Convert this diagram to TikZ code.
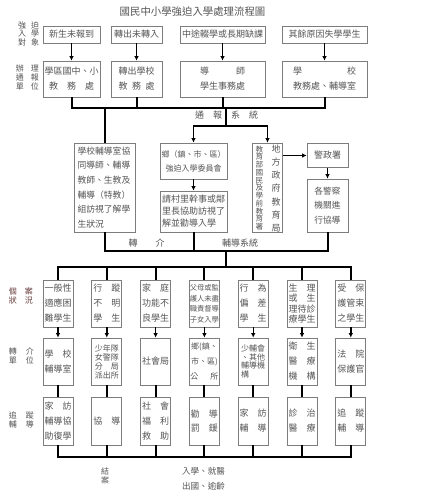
\documentclass[tikz,border=0pt]{standalone}
\usepackage{fontspec}
\setmainfont{Noto Sans CJK TC}
\usetikzlibrary{arrows.meta}
\definecolor{boxgray}{RGB}{125,125,125}
\definecolor{txtgray}{RGB}{85,85,85}
\definecolor{labred}{RGB}{100,55,55}
\tikzset{
  box/.style={draw=boxgray,line width=0.7pt,text=txtgray,inner sep=0pt,align=center,font=\fontsize{9}{15}\selectfont},
  obox/.style={box,minimum height=17pt},
  rbox/.style={box,minimum height=36pt},
  cbox/.style={box,minimum width=30pt,minimum height=47pt},
  arr/.style={line width=1.4pt,-{Latex[length=4.5pt,width=4.5pt]}},
  bus/.style={line width=2pt},
  slab/.style={text=txtgray,align=center,inner sep=0pt,font=\fontsize{8}{8.5}\selectfont},
  blab/.style={text=txtgray,inner sep=0pt,align=center,font=\fontsize{9}{11}\selectfont}
}
\begin{document}
\begin{tikzpicture}[x=1pt,y=-1pt]
\useasboundingbox (0,0) rectangle (433,500);
\node[blab,font=\fontsize{10.4}{12}\selectfont] (title) at (192.5,12) {國民中小學強迫入學處理流程圖};
\node[slab] (l1) at (28.5,33.5) {強\hspace{5pt}迫\\入\hspace{5pt}學\\對\hspace{5pt}象};
\node[slab,font=\fontsize{8}{9}\selectfont] (l2) at (27.5,77) {辦\hspace{7pt}理\\通\hspace{7pt}報\\單\hspace{7pt}位};
\node[slab,text=labred,font=\fontsize{8}{9}\selectfont] (l3) at (21,295.5) {個\hspace{8pt}案\\狀\hspace{8pt}況};
\node[slab,font=\fontsize{8}{9}\selectfont] (l4) at (21.5,355.5) {轉\hspace{9pt}介\\單\hspace{9pt}位};
\node[slab,font=\fontsize{8}{8.5}\selectfont] (l5) at (21.5,420) {追\hspace{9pt}蹤\\輔\hspace{9pt}導};

\node[obox,minimum width=57pt] (b1) at (71.5,34.5) {新生未報到}; \node[obox,minimum width=51pt] (b2) at (136.5,34.5) {轉出未轉入};
\node[obox,minimum width=85pt] (b3) at (222.5,34.5) {中途輟學或長期缺課}; \node[obox,minimum width=85pt] (b4) at (324.5,34.5) {其餘原因失學學生};
\node[rbox,minimum width=57pt] (c1) at (71.5,79) {學區國中、小\\教　務　處}; \node[rbox,minimum width=51pt] (c2) at (136.5,79) {轉出學校\\教\hspace{0.5em}務\hspace{0.5em}處};
\node[rbox,minimum width=85pt] (c3) at (222.5,79) {導　　　師\\學生事務處}; \node[rbox,minimum width=85pt] (c4) at (324.5,79) {學　　　　　校\\教務處、輔導室};
\draw[arr] (b1) -- (c1); \draw[arr] (b2) -- (c2); \draw[arr] (b3) -- (c3); \draw[arr] (b4) -- (c4);

\node[box,align=left,text width=54pt,inner xsep=3.5pt,minimum height=89pt,font=\fontsize{8.8}{14.6}\selectfont] (d1) at (104.5,187.5) {學校輔導室協\\同導師、輔導\\教師、生教及\\輔導（特教）\\組訪視了解學\\生狀況};
\node[box,minimum width=67pt,minimum height=36pt,font=\fontsize{8}{14}\selectfont] (d2) at (193.5,161) {鄉（鎮、市、區）\\強迫入學委員會};
\node[box,align=left,text width=63pt,inner xsep=2pt,minimum height=41pt,font=\fontsize{9}{12}\selectfont] (d3) at (193.5,211.5) {請村里幹事或鄰\\里長協助訪視了\\解並勸導入學};
\node[box,minimum width=30pt,minimum height=89pt] (d4) at (267.5,187.5) {};
\node[slab,font=\fontsize{7.6}{7.75}\selectfont] (d4a) at (259.5,188) {教\\育\\部\\國\\民\\及\\學\\前\\教\\育\\署};
\node[blab,font=\fontsize{9}{13.2}\selectfont] (d4b) at (276,188.5) {地\\方\\政\\府\\教\\育\\局};
\node[box,minimum width=41pt,minimum height=24pt] (e1) at (327.5,155.5) {警政署};
\node[box,minimum width=41pt,minimum height=53pt,font=\fontsize{8.7}{14.5}\selectfont] (e2) at (327.5,205.5) {各警察\\機關進\\行協導};

\coordinate (tb) at (226,108); \coordinate (tc) at (226,126);
\draw[bus] (c1.south) |- (c4.south |- tb) -- (c4.south); \draw[bus] (c2.south) -- (c2.south |- tb); \draw[bus] (c3.south) -- (c3.south |- tb);
\draw[bus] (tb) -- (tc); \draw[bus] (d1.north |- tb) -- (d1.north);
\draw[arr] (tc) -| (d2.north); \draw[arr] (tc) -| (d4.north);
\node[blab] (lb1) at (226.5,115.5) {通\hspace{9pt}報\hspace{9pt}系\hspace{9pt}統};
\draw[arr] (d2) -- (d3); \draw[arr] (d4.east |- e1.west) -- (e1.west); \draw[arr] (e1) -- (e2);

\coordinate (ta) at (226,251); \coordinate (td) at (226,267);
\draw[bus] (d1.south) |- (e2.south |- ta) -- (e2.south); \draw[bus] (d3.south) -- (d3.south |- ta); \draw[bus] (ta) -- (td);
\node[blab] (lb2) at (146.5,243) {轉\hspace{18pt}介}; \node[blab] (lb3) at (240,243) {輔導系統};

\node[cbox] (f1) at (58,303.5) {一般性\\適應困\\難學生}; \node[cbox] (f2) at (106.8,303.5) {行　蹤\\不　明\\學　生};
\node[cbox] (f3) at (155.6,303.5) {家　庭\\功能不\\良學生}; \node[cbox,font=\fontsize{7.3}{10.5}\selectfont] (f4) at (204.4,303.5) {父母或監\\護人未盡\\職責督導\\子女入學};
\node[cbox] (f5) at (253.2,303.5) {行　為\\偏　差\\學　生}; \node[cbox,font=\fontsize{9}{10.5}\selectfont] (f6) at (302,303.5) {生　理\\或　生\\理待診\\療學生};
\node[cbox] (f7) at (350.8,303.5) {受　保\\護管束\\之學生};
\draw[bus] (f1.north) |- (f7.north |- td) -- (f7.north); \draw[bus] (f2.north) -- (f2.north |- td); \draw[bus] (f3.north) -- (f3.north |- td);
\draw[bus] (f4.north) -- (f4.north |- td); \draw[bus] (f5.north) -- (f5.north |- td); \draw[bus] (f6.north) -- (f6.north |- td);

\node[cbox] (g1) at (58,361.5) {學　校\\輔導室}; \node[cbox,font=\fontsize{8}{9}\selectfont] (g2) at (106.8,361.5) {少年隊\\女警隊\\分　局\\派出所};
\node[cbox] (g3) at (155.6,361.5) {社會局}; \node[cbox,font=\fontsize{8}{15}\selectfont] (g4) at (204.4,361.5) {鄉(鎮、\\市、區)\\公\hspace{1.5em}所};
\node[cbox,align=left,text width=24pt,font=\fontsize{8}{8.7}\selectfont] (g5) at (253.2,361.5) {少輔會\\、其他\\輔導機\\構}; \node[cbox] (g6) at (302,361.5) {衛　生\\醫　療\\機　構};
\node[cbox] (g7) at (350.8,361.5) {法　院\\保護官};
\draw[arr] (f1) -- (g1); \draw[arr] (f2) -- (g2); \draw[arr] (f3) -- (g3); \draw[arr] (f4) -- (g4); \draw[arr] (f5) -- (g5); \draw[arr] (f6) -- (g6); \draw[arr] (f7) -- (g7);

\node[cbox,minimum height=48pt] (h1) at (58,421) {家　訪\\輔導協\\助復學}; \node[cbox,minimum height=48pt] (h2) at (106.8,421) {協　導};
\node[cbox,minimum height=48pt] (h3) at (155.6,421) {社　會\\福　利\\救　助}; \node[cbox,minimum height=48pt,font=\fontsize{9}{14}\selectfont] (h4) at (204.4,421) {勸　導\\罰　鍰};
\node[cbox,minimum height=48pt] (h5) at (253.2,421) {家　訪\\輔　導}; \node[cbox,minimum height=48pt] (h6) at (302,421) {診　治\\醫　療};
\node[cbox,minimum height=48pt] (h7) at (350.8,421) {追　蹤\\輔　導};
\draw[bus] (g1) -- (h1); \draw[bus] (g2) -- (h2); \draw[bus] (g3) -- (h3); \draw[bus] (g4) -- (h4); \draw[bus] (g5) -- (h5); \draw[bus] (g6) -- (h6); \draw[bus] (g7) -- (h7);

\coordinate (tz) at (200,457);
\draw[bus] (h1.south) |- (h7.south |- tz) -- (h7.south); \draw[bus] (h2.south) -- (h2.south |- tz); \draw[bus] (h3.south) -- (h3.south |- tz);
\draw[bus] (h4.south) -- (h4.south |- tz); \draw[bus] (h5.south) -- (h5.south |- tz); \draw[bus] (h6.south) -- (h6.south |- tz);
\node[slab] (end) at (105,476) {結\\案}; \node[blab,font=\fontsize{8.6}{15}\selectfont] (out) at (203.5,478.5) {入學、就醫\\出國、逾齡};
\end{tikzpicture}
\end{document}
